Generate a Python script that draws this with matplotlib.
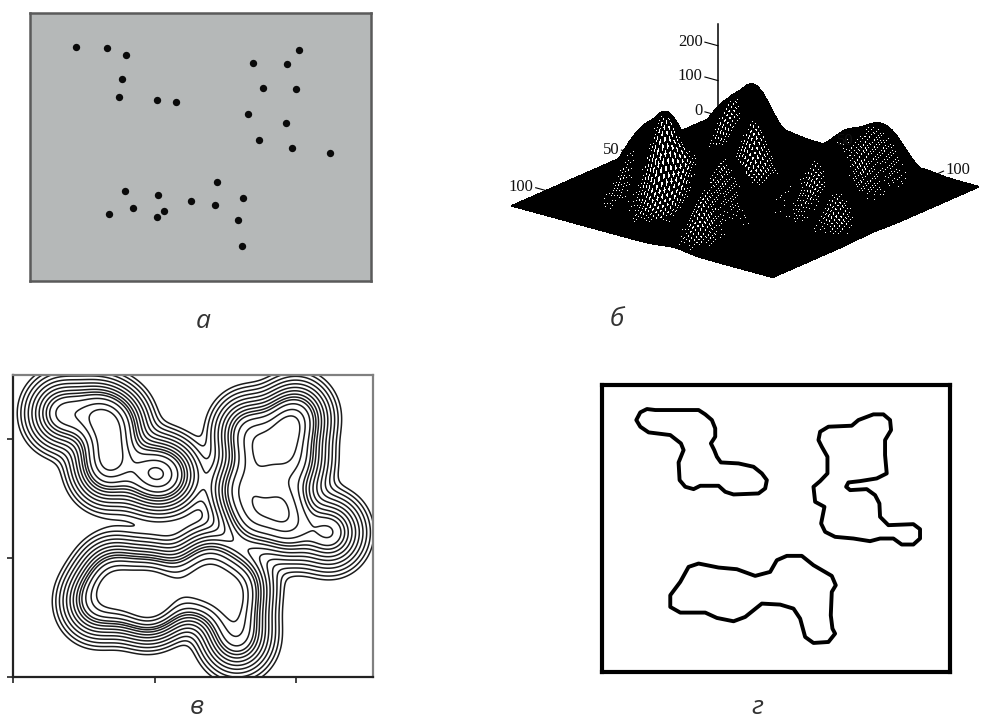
import numpy as np
import matplotlib
matplotlib.use("Agg")
import matplotlib.pyplot as plt
from mpl_toolkits.mplot3d import proj3d

W, H = 988, 725

# points of panel a, frame units (origin bottom left)
POINT_X = [46, 77.3, 95.7, 92.3, 89, 127.3, 146,
           268.7, 223.3, 256.7, 233, 266, 217.7, 256, 229.3, 261.7, 300,
           186.7, 95, 128.3, 161.3, 185, 213.3, 103.3, 134, 79.3, 127, 208, 212.3]
POINT_Y = [234, 233.3, 226, 202, 184.3, 181.3, 179.3,
           231.3, 218, 216.7, 192.7, 191.7, 166.7, 158.3, 141.3, 133.3, 128.3,
           98.7, 89.7, 85.7, 80.3, 76.3, 82.7, 72.7, 70, 66.7, 63.7, 60.7, 35]
FRAME_W, FRAME_H = 341, 268

SIGMA = 16.0
CONTOUR_LEVELS = [0.032, 0.055, 0.091, 0.144, 0.216, 0.31, 0.42, 0.55, 0.68, 0.81, 1.02, 1.32, 1.62]

# outlines of panel d, frame units (y down)
OUT1_X = [150, 170, 195, 325, 345, 365, 375, 375, 362, 372, 380, 392, 445, 490, 515, 530, 525, 505, 430, 405, 385, 330, 310, 285, 268, 265, 280, 272, 240, 175, 150, 138]
OUT1_Y = [112, 102, 105, 105, 118, 135, 160, 185, 205, 225, 245, 262, 265, 275, 295, 315, 340, 355, 358, 350, 332, 332, 342, 335, 315, 262, 225, 205, 180, 172, 155, 135]
OUT2_X = [690, 715, 785, 805, 850, 880, 900, 903, 885, 885, 890, 860, 810, 775, 768, 780, 830, 855, 868, 870, 895, 970, 990, 990, 970, 935, 910, 870, 840, 790, 735, 705, 693, 703, 675, 670, 690, 712, 712, 695, 685]
OUT2_Y = [170, 155, 152, 135, 118, 118, 135, 165, 195, 240, 295, 310, 318, 322, 335, 345, 342, 360, 385, 425, 450, 447, 462, 490, 508, 508, 490, 490, 498, 490, 485, 470, 445, 395, 380, 335, 318, 295, 245, 215, 195]
OUT3_X = [295, 325, 385, 440, 495, 540, 560, 590, 635, 670, 725, 737, 725, 722, 727, 735, 715, 670, 645, 630, 610, 570, 515, 465, 430, 380, 345, 270, 240, 240, 270]
OUT3_Y = [575, 565, 577, 582, 602, 590, 555, 542, 542, 570, 602, 630, 650, 720, 760, 775, 800, 803, 785, 730, 700, 688, 685, 725, 738, 728, 712, 712, 695, 660, 620]

CAPTIONS = ["а", "б", "в", "г"]
Z_TICKS = [0, 100, 200]
EDGE_TICKS = [50, 100]


def density(x, y):
    total = np.zeros_like(x, dtype=float)
    for px, py in zip(POINT_X, POINT_Y):
        total += np.exp(-((x - px) ** 2 + (y - py) ** 2) / (2 * SIGMA ** 2))
    return total


def px_axes(fig, left, top, right, bottom, **kw):
    return fig.add_axes([left / W, 1 - bottom / H, (right - left) / W, (bottom - top) / H], **kw)


fig = plt.figure(figsize=(W / 100, H / 100), dpi=100)

# a
ax = px_axes(fig, 30, 13, 371, 281)
ax.set_facecolor("#b5b8b8")
ax.scatter(POINT_X, POINT_Y, s=28, color="#0a0a0a", linewidths=0)
ax.set_xlim(0, FRAME_W)
ax.set_ylim(0, FRAME_H)
ax.set_xticks([])
ax.set_yticks([])
for s in ax.spines.values():
    s.set_color("#5a5a5a")
    s.set_linewidth(1.8)

# b
ax3 = fig.add_axes([(738 - 270) / W, 1 - (160 + 270) / H, 540 / W, 540 / H], projection="3d", proj_type="ortho")
ax3.patch.set_alpha(0)
u = np.arange(0, 120.5, 1.25)
U, V = np.meshgrid(u, u)
Z = 92 * density(U / 120 * FRAME_W, (1 - V / 120) * FRAME_H)
face = np.empty(Z[:-1, :-1].shape + (4,))
face[:] = (1, 1, 1, 1)
face[Z[:-1, :-1] < 2] = (0, 0, 0, 1)
ax3.plot_surface(U, V, Z, facecolors=face, edgecolor="black", linewidth=0.7,
                 rstride=1, cstride=1, shade=False, antialiased=False)
ax3.set_xlim(0, 120)
ax3.set_ylim(120, 0)
ax3.set_zlim(0, 250)
ax3.set_box_aspect((1, 1, 0.28), zoom=0.86)
ax3.view_init(elev=20.3, azim=-51.7)
ax3.set_axis_off()
ax3.plot([0, 0], [0, 0], [0, 262], color="black", lw=1.1, zorder=20)
for z in Z_TICKS:
    ax3.plot([-6, 0], [0, 0], [z, z], color="black", lw=0.8, zorder=20)
for t in EDGE_TICKS:
    ax3.plot([-5, 0], [t, t], [0, 0], color="black", lw=0.8, zorder=20)
    ax3.plot([t, t], [-5, 0], [0, 0], color="black", lw=0.8, zorder=20)

# c
ax = px_axes(fig, 13, 375, 373, 677)
gx, gy = np.meshgrid(np.linspace(-10, FRAME_W + 10, 700), np.linspace(-10, FRAME_H + 10, 560))
F = density(gx, gy)
ax.contour(gx, gy, F, levels=CONTOUR_LEVELS, colors="#1c1c1c", linewidths=1.1)
ax.set_xlim(0, FRAME_W)
ax.set_ylim(0, FRAME_H)
ax.set_xticks([0, FRAME_W * 425 / 1080, FRAME_W * 850 / 1080])
ax.set_yticks([0, FRAME_H * 357 / 905, FRAME_H * 714 / 905])
ax.set_xticklabels([])
ax.set_yticklabels([])
ax.tick_params(length=4, width=1.2, color="#222222")
for name, s in ax.spines.items():
    s.set_color("#222222" if name in ("left", "bottom") else "#808080")
    s.set_linewidth(1.6)

# d
ax = px_axes(fig, 602, 385, 950, 672)
for xs, ys in [(OUT1_X, OUT1_Y), (OUT2_X, OUT2_Y), (OUT3_X, OUT3_Y)]:
    ax.fill(xs, ys, fill=False, edgecolor="black", linewidth=2.8, joinstyle="round")
ax.set_xlim(35, 1080)
ax.set_ylim(890, 30)
ax.set_xticks([])
ax.set_yticks([])
for s in ax.spines.values():
    s.set_color("black")
    s.set_linewidth(3)

for text, cx, cy in zip(CAPTIONS, [203, 617, 197, 757], [322, 320, 708, 708]):
    fig.text(cx / W, 1 - cy / H, text, family="Open Sans", style="italic", fontsize=19,
             color="#333333", ha="center", va="center")

# 3d tick labels placed as plain figure text at their projected spots
fig.canvas.draw()
proj = ax3.get_proj()


def label3d(x, y, z, text, ha):
    px, py, _ = proj3d.proj_transform(x, y, z, proj)
    fx, fy = fig.transFigure.inverted().transform(ax3.transData.transform((px, py)))
    fig.text(fx, fy, text, ha=ha, va="center", family="Liberation Serif", fontsize=12, color="#111111")


for z in Z_TICKS:
    label3d(-7, 0, z, str(z), "right")
for t in EDGE_TICKS:
    label3d(-6, t, 0, str(t), "right")
    label3d(t, -6, 0, str(t), "left")

fig.savefig("out.png", dpi=100)
